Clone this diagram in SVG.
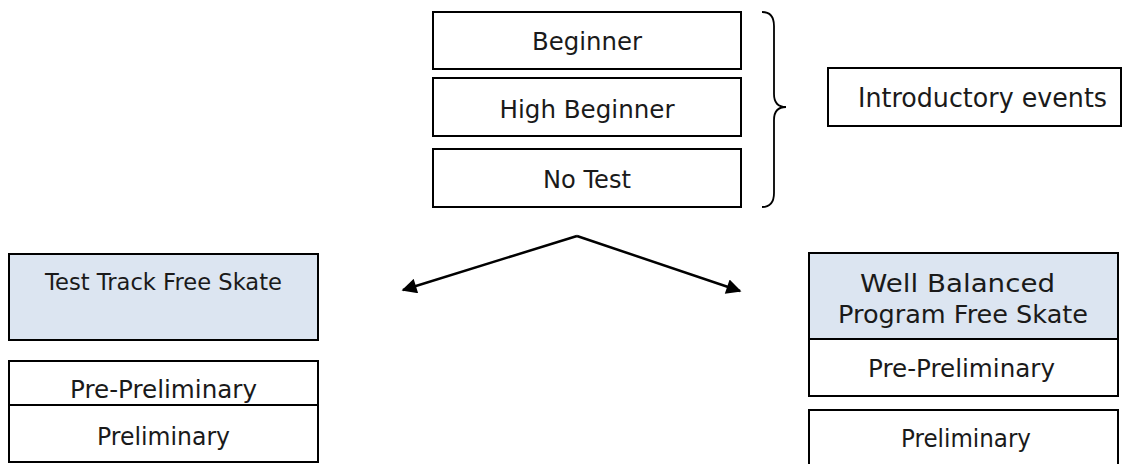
<svg xmlns="http://www.w3.org/2000/svg" width="1124" height="464" viewBox="0 0 1124 464">
<style>
.box{fill:#fff;stroke:#000;stroke-width:2}
.blue{fill:#dce5f1;stroke:#000;stroke-width:2}
text{font-family:"DejaVu Sans","Liberation Sans",sans-serif;font-size:24px;fill:#1a1a1a;text-anchor:middle}
.sm{font-size:23px}
.lg{font-size:26px}
.conn{stroke:#000;stroke-width:2.5;fill:none}
</style>
<defs>
<marker id="ah" viewBox="0 0 10 10" refX="9" refY="5" markerWidth="7" markerHeight="6" markerUnits="strokeWidth" orient="auto">
<path d="M0,0 L10,5 L0,10 Z" fill="#000"/>
</marker>
</defs>
<g id="beginner"><rect class="box" x="433" y="12" width="308" height="57"/><text x="587" y="50" textLength="110" lengthAdjust="spacingAndGlyphs">Beginner</text></g>
<g id="high-beginner"><rect class="box" x="433" y="78" width="308" height="58"/><text x="587" y="118" textLength="175" lengthAdjust="spacingAndGlyphs">High Beginner</text></g>
<g id="no-test"><rect class="box" x="433" y="149" width="308" height="58"/><text x="587" y="188" textLength="88" lengthAdjust="spacingAndGlyphs">No Test</text></g>
<g id="brace"><path d="M762,12 Q774,12 774,26 L774,94 Q774,107 786,107 Q774,107 774,120 L774,193 Q774,207 762,207" fill="none" stroke="#000" stroke-width="1.8"/></g>
<g id="introductory"><rect class="box" x="828" y="68" width="293" height="58"/><text class="lg" x="982.5" y="107" textLength="249" lengthAdjust="spacingAndGlyphs">Introductory events</text></g>
<g id="test-track"><rect class="blue" x="9" y="254" width="309" height="86"/><text class="sm" x="163.5" y="290" textLength="237" lengthAdjust="spacingAndGlyphs">Test Track Free Skate</text></g>
<g id="left-pre-preliminary"><rect class="box" x="9" y="361" width="309" height="44"/><text x="163.5" y="398" textLength="187" lengthAdjust="spacingAndGlyphs">Pre-Preliminary</text></g>
<g id="left-preliminary"><rect class="box" x="9" y="405" width="309" height="57"/><text x="163.5" y="445" textLength="133" lengthAdjust="spacingAndGlyphs">Preliminary</text></g>
<g id="well-balanced"><rect class="blue" x="809" y="253" width="309" height="86"/><text x="957.5" y="292" textLength="195" lengthAdjust="spacingAndGlyphs">Well Balanced</text><text x="963" y="323" textLength="250" lengthAdjust="spacingAndGlyphs">Program Free Skate</text></g>
<g id="right-pre-preliminary"><rect class="box" x="809" y="339" width="309" height="57"/><text x="961.5" y="377" textLength="187" lengthAdjust="spacingAndGlyphs">Pre-Preliminary</text></g>
<g id="right-preliminary"><rect class="box" x="809" y="410" width="309" height="64"/><text x="966" y="447" textLength="130" lengthAdjust="spacingAndGlyphs">Preliminary</text></g>
<g id="connectors">
<path class="conn" d="M577,236 L403,290" marker-end="url(#ah)"/>
<path class="conn" d="M577,236 L740,291" marker-end="url(#ah)"/>
</g>
</svg>
